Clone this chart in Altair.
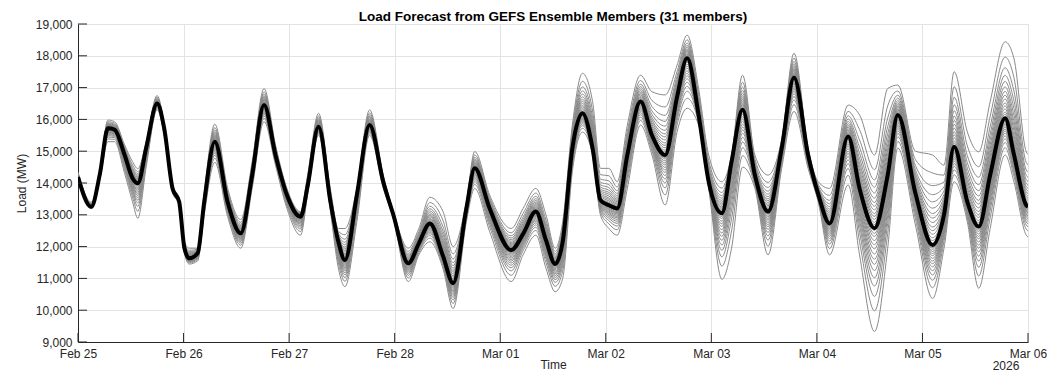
import altair as alt
import pandas as pd

# ---- data (hours after 2026-02-25 00:00) ----
hours = [0, 3, 5, 6.8, 8.3, 10.6, 12.4, 13.6, 15.5, 18, 19.6, 21.5, 23, 24.2, 25.3, 27.2,
         28.7, 31.1, 34, 37, 39.6, 42.3, 44.9, 47.5, 50.6, 52.2, 54.7, 57.4, 59.2, 60.7,
         63.4, 66.3, 69.4, 71.7, 75.1, 77.5, 80, 83, 85.3, 88.3, 90.2, 93.6, 98.5, 101.2,
         104.1, 106.4, 108.5, 110.2, 112.4, 114.7, 117, 118.8, 120.7, 122.6, 124.9, 127.9,
         130.5, 133.5, 136.2, 138.5, 141.1, 143.4, 146.4, 148.6, 151.1, 153.9, 156.9, 160,
         162.8, 166, 168.3, 170.9, 175.1, 177.7, 181.1, 184.1, 186.4, 190.4, 194.3, 196.9,
         199.2, 202.2, 204.8, 207.4, 210.8, 212.8, 215.6, 216]

mean_mw = [14190, 13250, 14300, 15720, 15680, 14880, 14150, 13990, 15100, 16500, 15720, 13830,
           13410, 11950, 11630, 11790, 13410, 15300, 13410, 12420, 14250, 16450, 14880, 13620,
           12940, 13900, 15770, 13410, 12150, 11580, 13620, 15820, 14040, 13000, 11475, 12100,
           12730, 11700, 10850, 13200, 14460, 13200, 11890, 12400, 13100, 12200, 11450, 12150,
           15090, 16190, 15090, 13460, 13300, 13200, 14880, 16560, 15500, 14880, 16700, 17920,
           16140, 14040, 13050, 14670, 16300, 14250, 13100, 15090, 17320, 14880, 13650, 12730,
           15460, 13830, 12580, 14250, 16140, 13680, 12050, 13000, 15140, 13410, 12630, 14250,
           16040, 14900, 13300, 13250]

low_mw = [14100, 13200, 14150, 15300, 15300, 14300, 13410, 12890, 14500, 16300, 15500, 13700,
          13300, 11800, 11450, 11550, 13000, 14650, 12950, 11950, 13830, 15930, 14560, 13200,
          12360, 13620, 15500, 13100, 11320, 10740, 12780, 15500, 13830, 12900, 10900, 11740,
          12150, 11300, 10050, 12780, 13830, 12470, 10900, 11740, 12360, 11320, 10580, 11000,
          14360, 15600, 14880, 12990, 12570, 12360, 13830, 15820, 14880, 13310, 15600, 16350,
          15820, 13830, 10970, 11950, 14500, 13830, 11740, 14460, 16250, 14460, 13410, 11740,
          13940, 11740, 9330, 11950, 15100, 12680, 10370, 11950, 14040, 12780, 10690, 12570,
          14880, 14040, 12360, 12300]

high_mw = [14350, 13400, 14400, 15980, 15930, 15200, 14670, 14450, 15300, 16750, 15850, 13950,
           13500, 12150, 11950, 11950, 13700, 15850, 13850, 12850, 14670, 16970, 15200, 13830,
           13100, 14250, 16190, 13800, 12570, 12570, 13830, 16300, 14250, 13100, 11950, 12570,
           13550, 13100, 12000, 13410, 14990, 13620, 12570, 13200, 13830, 13000, 11950, 12780,
           15820, 17450, 16560, 14460, 14460, 14040, 15820, 17390, 16870, 16770, 17700, 18650,
           16970, 14880, 14040, 14880, 17390, 14880, 14250, 15380, 18080, 15100, 14040, 13830,
           16450, 16140, 14880, 16970, 17080, 15000, 14880, 14560, 17500, 15610, 14980, 16560,
           18440, 17920, 14980, 14900]

# relative position of each of the 31 members inside the spread (-1 = lowest, 1 = highest)
member_pos = [1.0, 0.8, 0.66, 0.56, 0.48, 0.41, 0.35, 0.3, 0.25, 0.2, 0.16, 0.12, 0.08, 0.05,
              0.02, 0.0, -0.02, -0.05, -0.08, -0.12, -0.16, -0.2, -0.25, -0.3, -0.35, -0.41,
              -0.48, -0.56, -0.66, -0.8, -1.0]

y_ticks = [9000, 10000, 11000, 12000, 13000, 14000, 15000, 16000, 17000, 18000, 19000]
day_ticks = [(2, 25), (2, 26), (2, 27), (2, 28), (3, 1), (3, 2), (3, 3), (3, 4), (3, 5), (3, 6)]

# ---- tables ----
start = pd.Timestamp("2026-02-25")
times = [(start + pd.Timedelta(hours=h)).strftime("%Y-%m-%dT%H:%M:%S") for h in hours]

rows = []
for k, s in enumerate(member_pos):
    for t, m, lo, hi in zip(times, mean_mw, low_mw, high_mw):
        v = m + s * (hi - m) if s >= 0 else m + s * (m - lo)
        rows.append({"time": t, "load": v, "member": f"m{k + 1:02d}"})
members_df = pd.DataFrame(rows)
mean_df = pd.DataFrame({"time": times, "load": mean_mw})
xtick_df = pd.DataFrame({"time": [f"2026-{m:02d}-{d:02d}T00:00:00" for m, d in day_ticks]})
ytick_df = pd.DataFrame({"load": y_ticks})

FONT = "Liberation Sans"
W, H = 950, 318
x_domain = [alt.DateTime(year=2026, month=2, date=25), alt.DateTime(year=2026, month=3, date=6)]
x_values = [alt.DateTime(year=2026, month=m, date=d) for m, d in day_ticks]

x_enc = alt.X(
    "time:T",
    scale=alt.Scale(domain=x_domain, nice=False),
    axis=alt.Axis(values=x_values, format="%b %d", title="Time", ticks=False,
                  labelFlush=False, labelOverlap=False, labelPadding=6, titlePadding=0,
                  labelFontSize=12, titleFontSize=12, titleFontWeight="normal",
                  labelFont=FONT, titleFont=FONT, labelColor="#262626", titleColor="#262626",
                  domainColor="#262626", gridColor="#e3e3e3", grid=True),
)
y_enc = alt.Y(
    "load:Q",
    scale=alt.Scale(domain=[9000, 19000], nice=False, zero=False),
    axis=alt.Axis(values=y_ticks, format=",d", title="Load (MW)", ticks=False,
                  labelPadding=6, titlePadding=7, labelFontSize=12, titleFontSize=12,
                  titleFontWeight="normal", labelFont=FONT, titleFont=FONT,
                  labelColor="#262626", titleColor="#262626", domainColor="#262626",
                  gridColor="#e3e3e3", grid=True, labelFlush=False, labelOverlap=False),
)

members = alt.Chart(members_df).mark_line(
    color="#8a8a8a", strokeWidth=1, interpolate="monotone", clip=True).encode(
    x=x_enc, y=y_enc, detail="member:N")

mean_line = alt.Chart(mean_df).mark_line(
    color="black", strokeWidth=4, strokeJoin="round", interpolate="monotone",
    clip=True).encode(x=x_enc, y=y_enc)

xticks = alt.Chart(xtick_df).mark_rule(color="#262626", strokeWidth=1).encode(
    x=x_enc, y=alt.value(H), y2=alt.value(H - 9))
yticks = alt.Chart(ytick_df).mark_rule(color="#262626", strokeWidth=1).encode(
    y=y_enc, x=alt.value(0), x2=alt.value(9))

year_text = alt.Chart(pd.DataFrame({"label": ["2026"]})).mark_text(
    font=FONT, fontSize=12, color="#262626", baseline="middle", dx=-22).encode(
    x=alt.datum(alt.DateTime(year=2026, month=3, date=6)), y=alt.value(H + 24), text="label:N")

chart = alt.layer(members, mean_line, xticks, yticks, year_text).properties(
    width=W, height=H,
    title=alt.TitleParams("Load Forecast from GEFS Ensemble Members (31 members)",
                          font=FONT, fontSize=13.5, fontWeight="bold", color="black",
                          anchor="middle", offset=-5),
    autosize=alt.AutoSizeParams(type="none"),
    padding={"left": 70, "top": 16, "right": 19, "bottom": 30},
).configure_view(stroke=None).configure_axis(labelOverlap=False).configure(background="white")

chart.save("out.html", embed_options={"renderer": "svg", "actions": False})
